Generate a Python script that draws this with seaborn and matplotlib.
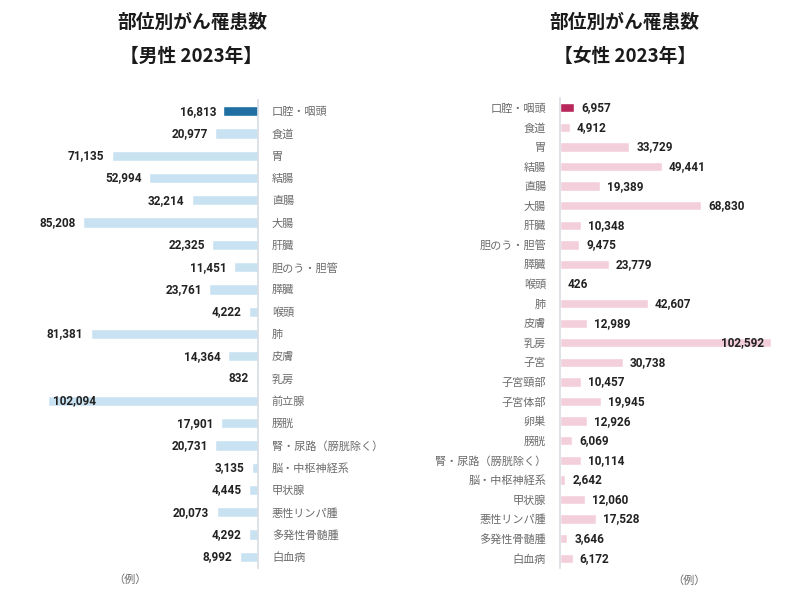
import seaborn as sns
import matplotlib.pyplot as plt

# %% data (cases, 2023)
male_sites = ['口腔・咽頭', '食道', '胃', '結腸', '直腸', '大腸', '肝臓', '胆のう・胆管',
              '膵臓', '喉頭', '肺', '皮膚', '乳房', '前立腺', '膀胱', '腎・尿路（膀胱除く）',
              '脳・中枢神経系', '甲状腺', '悪性リンパ腫', '多発性骨髄腫', '白血病']
male_cases = [16813, 20977, 71135, 52994, 32214, 85208, 22325, 11451,
              23761, 4222, 81381, 14364, 832, 102094, 17901, 20731,
              3135, 4445, 20073, 4292, 8992]

female_sites = ['口腔・咽頭', '食道', '胃', '結腸', '直腸', '大腸', '肝臓', '胆のう・胆管',
                '膵臓', '喉頭', '肺', '皮膚', '乳房', '子宮', '子宮頸部', '子宮体部', '卵巣',
                '膀胱', '腎・尿路（膀胱除く）', '脳・中枢神経系', '甲状腺', '悪性リンパ腫',
                '多発性骨髄腫', '白血病']
female_cases = [6957, 4912, 33729, 49441, 19389, 68830, 10348, 9475,
                23779, 426, 42607, 12989, 102592, 30738, 10457, 19945, 12926,
                6069, 10114, 2642, 12060, 17528, 3646, 6172]

# %% style
sns.set_style('white')
plt.rcParams['font.family'] = ['Noto Sans CJK JP', 'DejaVu Sans']

BLUE, LIGHT_BLUE = '#1f6fa3', '#c9e2f2'
RED, LIGHT_PINK = '#b8265a', '#f3cfdb'
LABEL_GRAY = '#6b6b6b'
XMAX = 111000

fig = plt.figure(figsize=(8, 6), dpi=100)

# left panel: men, bars grow to the left
ax_m = fig.add_axes([30 / 800, 1 - 568 / 600, 228 / 800, 468 / 600])
m_colors = [BLUE] + [LIGHT_BLUE] * (len(male_sites) - 1)
sns.barplot(x=male_cases, y=male_sites, hue=male_sites, palette=m_colors,
            legend=False, orient='h', width=0.46, saturation=1, ax=ax_m)
ax_m.set_xlim(XMAX, 0)
ax_m.yaxis.tick_right()
for i, v in enumerate(male_cases):
    if v > 95000:
        ax_m.text(v - 2500, i, f'{v:,}', ha='left', va='center',
                  fontsize=8.5, fontweight='bold', color='#222222', family=['Roboto'])
    else:
        ax_m.text(v + 3600, i, f'{v:,}', ha='right', va='center',
                  fontsize=8.5, fontweight='bold', color='#222222', family=['Roboto'])

# right panel: women, bars grow to the right
ax_f = fig.add_axes([560 / 800, 1 - 568 / 600, 230 / 800, 470 / 600])
f_colors = [RED] + [LIGHT_PINK] * (len(female_sites) - 1)
sns.barplot(x=female_cases, y=female_sites, hue=female_sites, palette=f_colors,
            legend=False, orient='h', width=0.48, saturation=1, ax=ax_f)
ax_f.set_xlim(0, XMAX * 230 / 228)
for i, v in enumerate(female_cases):
    if v > 95000:
        ax_f.text(v - 3000, i, f'{v:,}', ha='right', va='center',
                  fontsize=8.5, fontweight='bold', color='#222222', family=['Roboto'])
    else:
        ax_f.text(v + 3400, i, f'{v:,}', ha='left', va='center',
                  fontsize=8.5, fontweight='bold', color='#222222', family=['Roboto'])

for ax, keep in [(ax_m, 'right'), (ax_f, 'left')]:
    for side in ['left', 'right', 'top', 'bottom']:
        ax.spines[side].set_visible(side == keep)
    ax.spines[keep].set_color('#d8dde2')
    ax.spines[keep].set_linewidth(1.2)
    ax.set_xticks([])
    ax.set_xlabel('')
    ax.set_ylabel('')
    ax.tick_params(axis='y', length=0, pad=10, labelsize=8, labelcolor=LABEL_GRAY)

# titles and units
fig.text(0.241, 1 - 22 / 600, '部位別がん罹患数', ha='center', va='center',
         fontsize=13.5, fontweight='bold', color='#1a1a1a')
fig.text(0.239, 1 - 56 / 600, '【男性 2023年】', ha='center', va='center',
         fontsize=13.5, fontweight='bold', color='#1a1a1a')
fig.text(0.781, 1 - 22 / 600, '部位別がん罹患数', ha='center', va='center',
         fontsize=13.5, fontweight='bold', color='#1a1a1a')
fig.text(0.781, 1 - 56 / 600, '【女性 2023年】', ha='center', va='center',
         fontsize=13.5, fontweight='bold', color='#1a1a1a')
fig.text(0.162, 1 - 580 / 600, '（例）', ha='center', va='center', fontsize=8, color=LABEL_GRAY)
fig.text(0.861, 1 - 581 / 600, '（例）', ha='center', va='center', fontsize=8, color=LABEL_GRAY)

fig.savefig('out.png', dpi=100, facecolor='white')
